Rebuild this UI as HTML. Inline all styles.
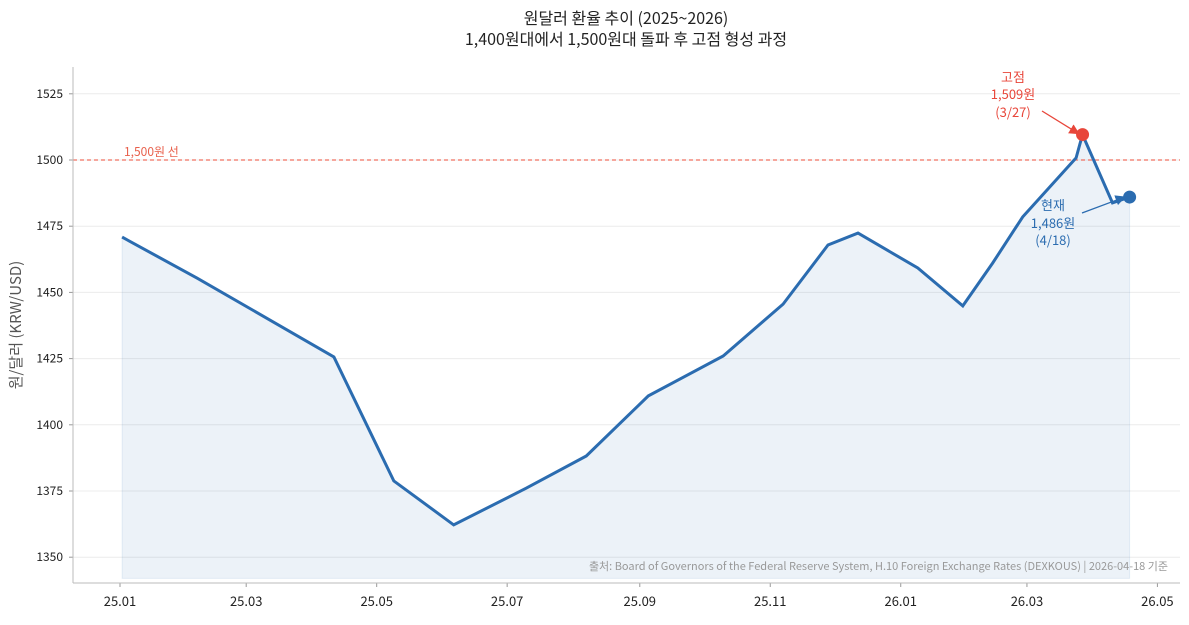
<!DOCTYPE html>
<html><head><meta charset="utf-8">
<style>
body{margin:0;background:#fff;font-family:"Noto Sans CJK KR","Liberation Sans",sans-serif;}
svg text{font-family:"Noto Sans CJK KR","Liberation Sans",sans-serif;}
</style></head>
<body>
<svg id="chart" width="1189" height="620" xmlns="http://www.w3.org/2000/svg">
<defs>
<marker id="ar" markerWidth="8" markerHeight="8" refX="7" refY="4" orient="auto"><path d="M0,0 L8,4 L0,8 z" fill="#e8463a"/></marker>
<marker id="ab" markerWidth="8" markerHeight="8" refX="7" refY="4" orient="auto"><path d="M0,0 L8,4 L0,8 z" fill="#2b6cb0"/></marker>
</defs>
<text x="626" y="24" text-anchor="middle" font-size="16" fill="#222">원달러 환율 추이 (2025~2026)</text>
<text x="626" y="45" text-anchor="middle" font-size="16" fill="#222">1,400원대에서 1,500원대 돌파 후 고점 형성 과정</text>
<text transform="translate(21,325) rotate(-90)" text-anchor="middle" font-size="15" fill="#555">원/달러 (KRW/USD)</text>
<g id="grid"></g><g id="marks"></g><g id="axes"></g>
<text x="1168" y="570" text-anchor="end" font-size="11" fill="#999">출처: Board of Governors of the Federal Reserve System, H.10 Foreign Exchange Rates (DEXKOUS) | 2026-04-18 기준</text>
</svg>
<script>
const dayOffsets=[1,36,70,100,128,156,190,218,247,282,310,331,345,373,394,408,422,447,450,464,472];
const rates=[1470.9,1455.4,1439.6,1425.6,1378.8,1362.2,1376.1,1388.2,1410.9,1426,1445.6,1467.9,1472.4,1459.2,1444.9,1461.1,1478.5,1500.8,1509.6,1483.8,1486];
const yTicks=[1350,1375,1400,1425,1450,1475,1500,1525];
const xTickDays=[0,59,120,181,243,304,365,424,485];
const xTickLabels=['25.01','25.03','25.05','25.07','25.09','25.11','26.01','26.03','26.05'];
const peakIndex=18, currentIndex=20, thresholdValue=1500;
const NS='http://www.w3.org/2000/svg';
const X=d=>120+d*2.139;
const Y=v=>160-(v-1500)*66.2/25;
function mk(tag,attrs,parent,text){const e=document.createElementNS(NS,tag);for(const k in attrs)e.setAttribute(k,attrs[k]);if(text!==undefined)e.textContent=text;parent.appendChild(e);return e;}
const grid=document.getElementById('grid'),marks=document.getElementById('marks'),axes=document.getElementById('axes');
yTicks.forEach(v=>{
 const l=mk('line',{x1:73,x2:1180,y1:Y(v),y2:Y(v),stroke:'#ececec','stroke-width':1},grid);
 
 
 const t=mk('text',{x:63,y:Y(v)+4,'text-anchor':'end','font-size':12,fill:'#222'},axes,String(v));
 
 
 mk('line',{x1:69,x2:73,y1:Y(v),y2:Y(v),stroke:'#999'},axes);
});
xTickDays.forEach((d,i)=>{
 const t=mk('text',{x:X(d),y:606,'text-anchor':'middle','font-size':13,fill:'#222'},axes,xTickLabels[i]);
 
 
 mk('line',{x1:X(d),x2:X(d),y1:583,y2:587,stroke:'#999'},axes);
});
const al=mk('line',{x1:73,x2:73,y1:67,y2:583,stroke:'#bbb'},axes);


const bl=mk('line',{x1:73,x2:1180,y1:583,y2:583,stroke:'#bbb'},axes);


const pts=dayOffsets.map((d,i)=>X(d).toFixed(1)+','+Y(rates[i]).toFixed(1));
const base=Y(1342);
const area=mk('polygon',{points:X(dayOffsets[0])+','+base+' '+pts.join(' ')+' '+X(dayOffsets[dayOffsets.length-1])+','+base,fill:'#2b6cb0','fill-opacity':0.09,stroke:'#2b6cb0','stroke-opacity':0.1},marks);


const th=mk('line',{x1:73,x2:1180,y1:Y(thresholdValue),y2:Y(thresholdValue),stroke:'#f07060','stroke-width':1.2,'stroke-dasharray':'4,3'},marks);


const tl=mk('text',{x:124,y:Y(thresholdValue)-4,'font-size':12,fill:'#e8604c'},marks,'1,500원 선');


const line=mk('polyline',{points:pts.join(' '),fill:'none',stroke:'#2b6cb0','stroke-width':3,'stroke-linejoin':'miter'},marks);


const px=X(dayOffsets[peakIndex]),py=Y(rates[peakIndex]);
const cx=X(dayOffsets[currentIndex]),cy=Y(rates[currentIndex]);
const pa=mk('line',{x1:1042,y1:111,x2:px-4,y2:py-1,stroke:'#e8463a','stroke-width':1.3,'marker-end':'url(#ar)'},marks);


const ca=mk('line',{x1:1082,y1:213,x2:cx-5,y2:cy,stroke:'#2b6cb0','stroke-width':1.3,'marker-end':'url(#ab)'},marks);


const pd=mk('circle',{cx:px,cy:py,r:6.5,fill:'#e8463a'},marks);


const cd=mk('circle',{cx:cx,cy:cy,r:6.5,fill:'#2b6cb0'},marks);


[['고점',82],['1,509원',99],['(3/27)',117]].forEach(a=>{const t=mk('text',{x:1013,y:a[1],'text-anchor':'middle','font-size':13,fill:'#e8463a'},marks,a[0]);

});
[['현재',210],['1,486원',228],['(4/18)',245]].forEach(a=>{const t=mk('text',{x:1053,y:a[1],'text-anchor':'middle','font-size':13,fill:'#2b6cb0'},marks,a[0]);

});
</script>
</body></html>
